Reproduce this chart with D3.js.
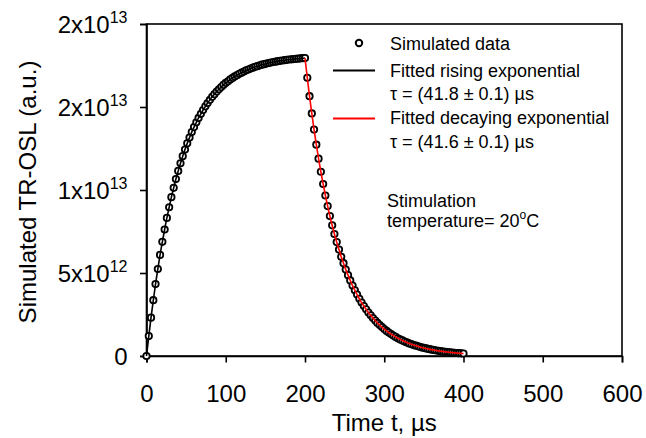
<!DOCTYPE html>
<html>
<head>
<meta charset="utf-8">
<script src="https://cdn.jsdelivr.net/npm/d3@7"></script>
<style>
  html, body { margin: 0; padding: 0; background: #fff; }
  svg { display: block; font-family: "Liberation Sans", Arial, Helvetica, sans-serif; }
</style>
</head>
<body>
<svg id="chart" width="646" height="438"></svg>
<script>
// ---- Data (values in units of 1e12 a.u.) ----
const risingTimes = [
  0, 2.9, 5.7, 8.6, 11.4, 14.3, 17.1,
  20, 22.9, 25.7, 28.6, 31.4, 34.3, 37.1,
  40, 42.9, 45.7, 48.6, 51.4, 54.3, 57.1,
  60, 62.9, 65.7, 68.6, 71.4, 74.3, 77.1,
  80, 82.9, 85.7, 88.6, 91.4, 94.3, 97.1,
  100, 102.9, 105.7, 108.6, 111.4, 114.3, 117.1,
  120, 122.9, 125.7, 128.6, 131.4, 134.3, 137.1,
  140, 142.9, 145.7, 148.6, 151.4, 154.3, 157.1,
  160, 162.9, 165.7, 168.6, 171.4, 174.3, 177.1,
  180, 182.9, 185.7, 188.6, 191.4, 194.3, 197.1,
  200
];
const risingValues = [
  0, 1.20, 2.31, 3.36, 4.33, 5.24, 6.09,
  6.88, 7.62, 8.32, 8.96, 9.57, 10.13, 10.66,
  11.15, 11.61, 12.04, 12.44, 12.81, 13.16, 13.49,
  13.79, 14.08, 14.34, 14.59, 14.82, 15.04, 15.24,
  15.43, 15.61, 15.77, 15.93, 16.07, 16.20, 16.33,
  16.45, 16.55, 16.66, 16.75, 16.84, 16.92, 17.00,
  17.07, 17.14, 17.21, 17.26, 17.32, 17.37, 17.42,
  17.46, 17.51, 17.55, 17.58, 17.62, 17.65, 17.68,
  17.71, 17.73, 17.76, 17.78, 17.80, 17.82, 17.84,
  17.86, 17.87, 17.89, 17.90, 17.91, 17.93, 17.94,
  17.95
];
const decayTimes = [
  200, 202.9, 205.7, 208.6, 211.4, 214.3, 217.1,
  220, 222.9, 225.7, 228.6, 231.4, 234.3, 237.1,
  240, 242.9, 245.7, 248.6, 251.4, 254.3, 257.1,
  260, 262.9, 265.7, 268.6, 271.4, 274.3, 277.1,
  280, 282.9, 285.7, 288.6, 291.4, 294.3, 297.1,
  300, 302.9, 305.7, 308.6, 311.4, 314.3, 317.1,
  320, 322.9, 325.7, 328.6, 331.4, 334.3, 337.1,
  340, 342.9, 345.7, 348.6, 351.4, 354.3, 357.1,
  360, 362.9, 365.7, 368.6, 371.4, 374.3, 377.1,
  380, 382.9, 385.7, 388.6, 391.4, 394.3, 397.1,
  400
];
const decayValues = [
  17.95, 16.76, 15.65, 14.61, 13.64, 12.73, 11.89,
  11.10, 10.36, 9.67, 9.03, 8.43, 7.87, 7.35,
  6.86, 6.41, 5.98, 5.59, 5.21, 4.87, 4.55,
  4.24, 3.96, 3.70, 3.45, 3.22, 3.01, 2.81,
  2.62, 2.45, 2.29, 2.14, 1.99, 1.86, 1.74,
  1.62, 1.51, 1.41, 1.32, 1.23, 1.15, 1.07,
  1.00, 0.94, 0.87, 0.82, 0.76, 0.71, 0.66,
  0.62, 0.58, 0.54, 0.50, 0.47, 0.44, 0.41,
  0.38, 0.36, 0.33, 0.31, 0.29, 0.27, 0.25,
  0.24, 0.22, 0.21, 0.19, 0.18, 0.17, 0.16,
  0.15
];
const valueUnit = 1e12;
const xTicks = [0, 100, 200, 300, 400, 500, 600];
const yTicks = [0, 5e12, 1e13, 1.5e13, 2e13];
const yTickLabels = ["0", "5x10^12", "1x10^13", "2x10^13", "2x10^13"];
const xTitle = "Time t, \u00B5s";
const yTitle = "Simulated TR-OSL (a.u.)";
const legendLabels = ["Simulated data", "Fitted rising exponential", "\u03C4 = (41.8 \u00B1 0.1) \u00B5s",
                      "Fitted decaying exponential", "\u03C4 = (41.6 \u00B1 0.1) \u00B5s"];
const noteLines = ["Stimulation", "temperature= 20", "o", "C"];

// ---- Layout ----
const svg = d3.select("#chart");
const L = 146.5, R = 622, T = 24, B = 356;
const x = d3.scaleLinear().domain([0, 600]).range([L, R]);
const y = d3.scaleLinear().domain([0, 2e13]).range([B, T]);

const rising = risingTimes.map((t, i) => ({ t, v: risingValues[i] * valueUnit }));
const decay = decayTimes.map((t, i) => ({ t, v: decayValues[i] * valueUnit }));

// Frame
svg.append("rect").attr("x", L).attr("y", T).attr("width", R - L).attr("height", B - T)
  .attr("fill", "none").attr("stroke", "#000").attr("stroke-width", 1.6);

// X axis
const xAxis = svg.append("g").attr("transform", `translate(0,${B})`)
  .call(d3.axisBottom(x).tickValues(xTicks).tickSize(6.5).tickPadding(22).tickFormat(d3.format("d")));
xAxis.select(".domain").attr("stroke-width", 1.6);
xAxis.selectAll(".tick line").attr("stroke-width", 1.6);
xAxis.selectAll(".tick text").attr("font-size", 24).attr("font-family", "Liberation Sans, Arial, sans-serif").attr("fill", "#000");

// Y axis
const yAxis = svg.append("g").attr("transform", `translate(${L},0)`)
  .call(d3.axisLeft(y).tickValues(yTicks).tickSize(6.5).tickFormat(() => ""));
yAxis.select(".domain").attr("stroke-width", 1.6);
yAxis.selectAll(".tick line").attr("stroke-width", 1.6);
yAxis.selectAll(".tick").each(function (d, i) {
  const parts = yTickLabels[i].split("^");
  const txt = d3.select(this).append("text")
    .attr("x", -19).attr("y", 0).attr("dy", "0.35em")
    .attr("text-anchor", "end").attr("fill", "#000")
    .attr("font-size", 24).attr("font-family", "Liberation Sans, Arial, sans-serif");
  txt.append("tspan").text(parts[0]);
  if (parts[1]) {
    txt.append("tspan").attr("font-size", 16).attr("dy", -10).text(parts[1]);
  }
});

// Axis titles
svg.append("text").attr("x", (L + R) / 2).attr("y", 431).attr("text-anchor", "middle")
  .attr("font-size", 24).attr("fill", "#000").text(xTitle);
svg.append("text").attr("transform", `translate(36,${(T + B) / 2 + 2}) rotate(-90)`)
  .attr("text-anchor", "middle").attr("font-size", 24).attr("fill", "#000").text(yTitle);

// Data circles
const allPts = rising.concat(decay.slice(1));
svg.append("g").selectAll("circle").data(allPts).join("circle")
  .attr("cx", d => x(d.t)).attr("cy", d => y(d.v)).attr("r", 3.2)
  .attr("fill", "#fff").attr("stroke", "#000").attr("stroke-width", 1.8);

// Fitted lines
const line = d3.line().x(d => x(d.t)).y(d => y(d.v)).curve(d3.curveMonotoneX);
svg.append("path").datum(rising).attr("d", line).attr("fill", "none")
  .attr("stroke", "#000").attr("stroke-width", 1.6);
svg.append("path").datum(decay).attr("d", line).attr("fill", "none")
  .attr("stroke", "#ff0000").attr("stroke-width", 1.6);

// Legend
const lg = svg.append("g").attr("font-size", 18).attr("fill", "#000");
lg.append("circle").attr("cx", 359).attr("cy", 43).attr("r", 3.2)
  .attr("fill", "#fff").attr("stroke", "#000").attr("stroke-width", 2);
lg.append("line").attr("x1", 333).attr("x2", 375).attr("y1", 70.5).attr("y2", 70.5)
  .attr("stroke", "#000").attr("stroke-width", 2);
lg.append("line").attr("x1", 333).attr("x2", 375).attr("y1", 118.5).attr("y2", 118.5)
  .attr("stroke", "#ff0000").attr("stroke-width", 2);
const legendY = [50, 77, 100, 124, 148];
legendLabels.forEach((s, i) => {
  lg.append("text").attr("x", 390).attr("y", legendY[i]).text(s);
});

// Note
const note = svg.append("g").attr("font-size", 18).attr("fill", "#000");
note.append("text").attr("x", 387).attr("y", 207).text(noteLines[0]);
const t2 = note.append("text").attr("x", 387).attr("y", 227);
t2.append("tspan").text(noteLines[1]);
t2.append("tspan").attr("font-size", 12).attr("dy", -8).text(noteLines[2]);
t2.append("tspan").attr("dy", 8).text(noteLines[3]);
</script>
</body>
</html>
